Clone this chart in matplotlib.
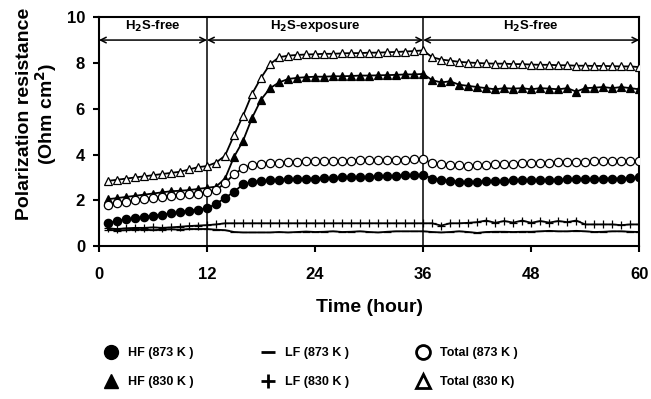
import numpy as np
import matplotlib
matplotlib.use("Agg")
import matplotlib.pyplot as plt
from matplotlib.lines import Line2D

plt.rcParams["font.family"] = ["Liberation Sans", "DejaVu Sans"]
plt.rcParams["font.weight"] = "bold"

# hourly readings, t = 1..60 h
hours = np.arange(1, 61)

total_830 = [2.85, 2.9, 2.95, 3.0, 3.05, 3.1, 3.15, 3.2, 3.25, 3.35, 3.45, 3.5,
             3.65, 3.95, 4.85, 5.7, 6.65, 7.35, 7.95, 8.25, 8.32, 8.35, 8.37, 8.38,
             8.4, 8.4, 8.42, 8.43, 8.43, 8.45, 8.45, 8.47, 8.48, 8.5, 8.52, 8.55,
             8.25, 8.15, 8.1, 8.05, 8.02, 8.0, 7.98, 7.97, 7.97, 7.95, 7.95, 7.93,
             7.92, 7.92, 7.9, 7.9, 7.88, 7.88, 7.87, 7.87, 7.86, 7.85, 7.85, 7.82]
hf_830 = [2.05, 2.1, 2.15, 2.2, 2.25, 2.3, 2.35, 2.4, 2.42, 2.45, 2.5, 2.55,
          2.6, 2.95, 3.9, 4.6, 5.6, 6.4, 6.9, 7.15, 7.3, 7.35, 7.38, 7.4,
          7.4, 7.42, 7.42, 7.43, 7.45, 7.45, 7.46, 7.47, 7.48, 7.5, 7.5, 7.52,
          7.25, 7.15, 7.2, 7.05, 7.0, 6.95, 6.9, 6.85, 6.9, 6.88, 6.9, 6.85,
          6.9, 6.88, 6.85, 6.9, 6.75, 6.9, 6.92, 6.95, 6.9, 6.95, 6.9, 6.85]
total_873 = [1.8, 1.88, 1.95, 2.0, 2.05, 2.1, 2.15, 2.2, 2.25, 2.28, 2.3, 2.35,
             2.45, 2.75, 3.15, 3.4, 3.55, 3.6, 3.62, 3.65, 3.67, 3.68, 3.7, 3.7,
             3.72, 3.72, 3.73, 3.74, 3.75, 3.75, 3.76, 3.77, 3.78, 3.78, 3.79, 3.8,
             3.62, 3.58, 3.56, 3.55, 3.52, 3.55, 3.56, 3.58, 3.6, 3.6, 3.62, 3.63,
             3.64, 3.65, 3.66, 3.67, 3.68, 3.68, 3.7, 3.7, 3.7, 3.72, 3.72, 3.72]
hf_873 = [1.0, 1.1, 1.18, 1.22, 1.28, 1.33, 1.38, 1.43, 1.5, 1.55, 1.6, 1.65,
          1.85, 2.1, 2.38, 2.7, 2.8, 2.85, 2.87, 2.9, 2.92, 2.93, 2.95, 2.95,
          2.97, 2.98, 3.0, 3.0, 3.02, 3.03, 3.05, 3.06, 3.08, 3.1, 3.1, 3.12,
          2.95, 2.9, 2.85, 2.82, 2.8, 2.82, 2.83, 2.85, 2.85, 2.87, 2.87, 2.88,
          2.88, 2.9, 2.9, 2.92, 2.92, 2.93, 2.93, 2.95, 2.95, 2.95, 2.97, 3.0]
lf_873 = [0.72, 0.68, 0.7, 0.72, 0.72, 0.7, 0.72, 0.74, 0.72, 0.75, 0.75, 0.75,
          0.72, 0.7, 0.62, 0.6, 0.6, 0.6, 0.6, 0.62, 0.6, 0.62, 0.64, 0.62,
          0.63, 0.65, 0.62, 0.63, 0.65, 0.62, 0.6, 0.63, 0.65, 0.65, 0.65, 0.65,
          0.62, 0.6, 0.62, 0.65, 0.62, 0.58, 0.62, 0.63, 0.63, 0.62, 0.63, 0.63,
          0.65, 0.67, 0.65, 0.65, 0.67, 0.65, 0.62, 0.63, 0.65, 0.65, 0.63, 0.62]
lf_830 = [0.78, 0.75, 0.78, 0.8, 0.8, 0.82, 0.8, 0.82, 0.85, 0.88, 0.9, 0.92,
          0.95, 1.0, 1.0, 1.0, 1.0, 1.0, 1.0, 1.0, 1.0, 1.0, 1.0, 1.0,
          1.0, 1.0, 1.0, 1.0, 1.0, 1.0, 1.0, 1.0, 1.0, 1.0, 1.0, 1.0,
          1.0, 0.9, 1.0, 1.0, 1.02, 1.05, 1.12, 1.02, 1.1, 1.03, 1.12, 1.02,
          1.1, 1.03, 1.1, 1.05, 1.12, 0.95, 0.95, 0.95, 0.95, 0.92, 0.95, 0.95]

# stage boundaries and labels
stage_edges = [0, 12, 36, 60]
stage_labels = ["H$_2$S-free", "H$_2$S-exposure", "H$_2$S-free"]

fig = plt.figure(figsize=(6.51, 3.99), dpi=100)
ax = fig.add_axes([0.152, 0.383, 0.830, 0.574])

# series: (values, marker, facecolor, label)
series = [
    (hf_873, "o", "black", "HF (873 K )"),
    (hf_830, "^", "black", "HF (830 K )"),
    (lf_873, "_", "black", "LF (873 K )"),
    (lf_830, "+", "black", "LF (830 K )"),
    (total_873, "o", "white", "Total (873 K )"),
    (total_830, "^", "white", "Total (830 K)"),
]

handles = []
for vals, mk, fc, lab in series:
    ax.plot(hours, vals, color="black", lw=1.3, marker=mk, markersize=6,
            markerfacecolor=fc, markeredgecolor="black", markeredgewidth=0.9,
            zorder=3)
    handles.append(Line2D([], [], ls="none", marker=mk, markersize=10,
                          markerfacecolor=fc, markeredgecolor="black",
                          markeredgewidth=2 if fc == "white" or mk in "_+" else 1,
                          label=lab))

# stage separators, arrows and labels
for x in stage_edges[1:-1]:
    ax.axvline(x, color="black", lw=1.1, zorder=2)
for (x0, x1), lab in zip(zip(stage_edges[:-1], stage_edges[1:]), stage_labels):
    ax.annotate("", xy=(x0, 9.0), xytext=(x1, 9.0),
                arrowprops=dict(arrowstyle="<->", lw=1.1, color="black",
                                shrinkA=0, shrinkB=0))
    ax.text((x0 + x1) / 2, 9.6, lab, ha="center", va="center",
            fontsize=9.5, fontweight="bold")

ax.set_xlim(0, 60)
ax.set_ylim(0, 10)
ax.set_xticks([0, 12, 24, 36, 48, 60])
ax.set_yticks([0, 2, 4, 6, 8, 10])
ax.tick_params(direction="out", length=4, width=1.5, labelsize=12)
ax.tick_params(axis="x", pad=11)
ax.tick_params(axis="y", pad=6)
for lbl in ax.get_xticklabels() + ax.get_yticklabels():
    lbl.set_fontweight("bold")
for sp in ax.spines.values():
    sp.set_linewidth(1.5)

ax.set_xlabel("Time (hour)", fontsize=14, fontweight="bold", labelpad=12)
# y label sits a bit above the axes centre in the original
fig.text(0.057, 0.714, "Polarization resistance\n(Ohm cm$^2$)", fontsize=14,
         fontweight="bold", rotation=90, ha="center", va="center",
         multialignment="center", linespacing=1.0)

fig.legend(handles=handles, ncol=3, frameon=False, loc="center",
           bbox_to_anchor=(0.476, 0.079), prop={"size": 9, "weight": "bold"},
           columnspacing=5.2, handletextpad=0.6, labelspacing=1.35,
           handlelength=1.5)

fig.savefig("out.png", dpi=100)
